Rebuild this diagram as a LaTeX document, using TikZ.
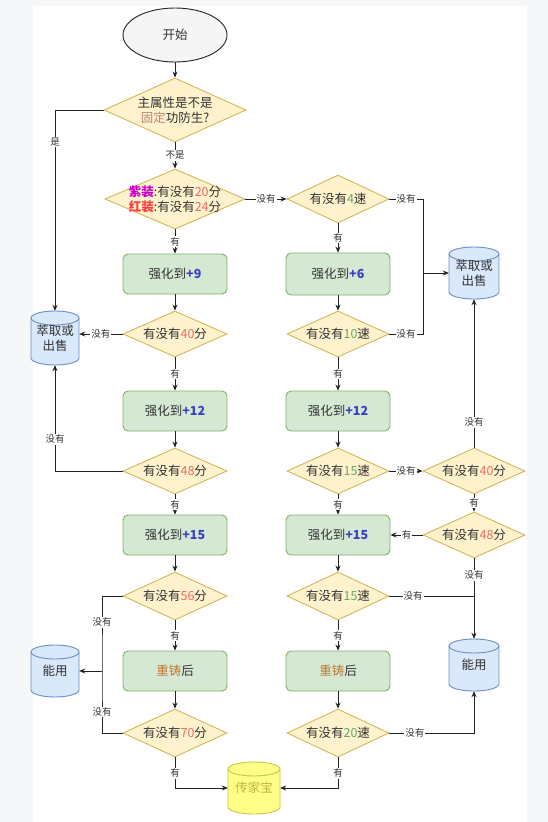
\documentclass[tikz,border=0pt]{standalone}
\usepackage{fontspec}
\setmainfont{Noto Sans CJK SC}
\usetikzlibrary{shapes.geometric,arrows.meta}
\definecolor{txtc}{HTML}{333333}
\definecolor{linec}{HTML}{222222}
\definecolor{diaF}{HTML}{FFF2CC}
\definecolor{diaD}{HTML}{D6B656}
\definecolor{boxF}{HTML}{D5E8D4}
\definecolor{boxD}{HTML}{82B366}
\definecolor{cylF}{HTML}{DAE8FC}
\definecolor{cylD}{HTML}{6C8EBF}
\definecolor{hF}{HTML}{FFFF88}
\definecolor{hD}{HTML}{CFC24A}
\definecolor{hT}{HTML}{C2B23E}
\definecolor{fenc}{HTML}{EA6B66}
\definecolor{suc}{HTML}{5DAA6A}
\definecolor{plusc}{HTML}{3B3FC4}
\definecolor{zic}{HTML}{CC00CC}
\definecolor{hongc}{HTML}{FF3B3B}
\definecolor{guc}{HTML}{B98575}
\definecolor{zhuc}{HTML}{C07A30}
\definecolor{bandc}{HTML}{F6F7F9}
\newcommand{\cfen}[1]{\textcolor{fenc}{#1}}
\newcommand{\csu}[1]{\textcolor{suc}{#1}}
\newcommand{\cplus}[1]{\textcolor{plusc}{\bfseries #1}}
\newcommand{\mkcyl}[7]{%
  \begin{scope}[shift={(#2,#3)}]
    \filldraw[#6] (-#4/2,-#5/2+7) -- (-#4/2,#5/2-7) arc[start angle=180,end angle=0,x radius=#4/2,y radius=7] -- (#4/2,-#5/2+7) arc[start angle=0,end angle=-180,x radius=#4/2,y radius=7] -- cycle;
    \draw[#6] (-#4/2,-#5/2+7) arc[start angle=180,end angle=0,x radius=#4/2,y radius=7];
  \end{scope}
  \node[cylt, minimum width=#4pt, minimum height=#5pt] (#1) at (#2,#3) {#7};
}
\tikzset{
  dia/.style={diamond, draw=diaD, fill=diaF, inner sep=0pt, line width=0.9pt},
  dlab/.style={font=\fontsize{12.5}{15}\selectfont, text=txtc, align=center, inner sep=0pt},
  box/.style={rectangle, rounded corners=5pt, draw=boxD, fill=boxF, line width=0.9pt, minimum width=104pt, minimum height=40pt, font=\fontsize{12.5}{15}\selectfont, text=txtc},
  cylt/.style={rectangle, inner sep=0pt, font=\fontsize{12.5}{15}\selectfont, align=center, text=txtc},
  cylblue/.style={fill=cylF, draw=cylD, line width=0.9pt},
  cylyel/.style={fill=hF, draw=hD, line width=0.9pt},
  lbl/.style={fill=white, inner sep=1pt, font=\fontsize{9.5}{11}\selectfont, text=txtc},
  arr/.style={-{Stealth[length=6pt,width=5pt]}, line width=0.9pt, draw=linec},
  ln/.style={line width=0.9pt, draw=linec},
}
\begin{document}
\begin{tikzpicture}[x=1pt,y=-1pt]
\fill[bandc] (0,0) rectangle (548,822);
\fill[white] (33,6) rectangle (527,822);
\useasboundingbox (0,0) rectangle (548,822);

% start
\node[ellipse, draw=linec, fill=black!4, line width=0.9pt, minimum width=104pt, minimum height=54pt, font=\fontsize{12.5}{15}\selectfont, text=txtc] (start) at (175,35) {开始};

% diamonds
\node[dia, minimum width=142pt, minimum height=64pt, label={[dlab]center:{主属性是不是\\\textcolor{guc}{固定}功防生?}}] (d1) at (175,110) {};
\node[dia, minimum width=140pt, minimum height=60pt, label={[dlab]center:{\textcolor{zic}{\bfseries 紫装}:有没有\cfen{20}分\\\textcolor{hongc}{\bfseries 红装}:有没有\cfen{24}分}}] (d2) at (175,199) {};
\node[dia, minimum width=102pt, minimum height=48pt, label={[dlab]center:{有没有\csu{4}速}}] (d3) at (338,199) {};
\node[dia, minimum width=104pt, minimum height=46pt, label={[dlab]center:{有没有\cfen{40}分}}] (d40L) at (175,334) {};
\node[dia, minimum width=102pt, minimum height=46pt, label={[dlab]center:{有没有\csu{10}速}}] (d10) at (338,334) {};
\node[dia, minimum width=104pt, minimum height=46pt, label={[dlab]center:{有没有\cfen{48}分}}] (d48L) at (175,471) {};
\node[dia, minimum width=102pt, minimum height=46pt, label={[dlab]center:{有没有\csu{15}速}}] (d15M) at (338,471) {};
\node[dia, minimum width=102pt, minimum height=46pt, label={[dlab]center:{有没有\cfen{40}分}}] (d40R) at (474,471) {};
\node[dia, minimum width=102pt, minimum height=46pt, label={[dlab]center:{有没有\cfen{48}分}}] (d48R) at (474,535) {};
\node[dia, minimum width=104pt, minimum height=48pt, label={[dlab]center:{有没有\cfen{56}分}}] (d56) at (175,596) {};
\node[dia, minimum width=102pt, minimum height=48pt, label={[dlab]center:{有没有\csu{15}速}}] (d15b) at (338,596) {};
\node[dia, minimum width=104pt, minimum height=48pt, label={[dlab]center:{有没有\cfen{70}分}}] (d70) at (175,733) {};
\node[dia, minimum width=102pt, minimum height=48pt, label={[dlab]center:{有没有\csu{20}速}}] (d20) at (338,733) {};

% boxes
\node[box] (b9) at (175,274) {强化到\cplus{+9}};
\node[box, minimum height=42pt] (b6) at (338,274) {强化到\cplus{+6}};
\node[box] (b12L) at (175,411) {强化到\cplus{+12}};
\node[box] (b12M) at (338,411) {强化到\cplus{+12}};
\node[box] (b15L) at (175,535) {强化到\cplus{+15}};
\node[box] (b15M) at (338,535) {强化到\cplus{+15}};
\node[box] (brL) at (175,671) {\textcolor{zhuc}{重铸}后};
\node[box] (brM) at (338,671) {\textcolor{zhuc}{重铸}后};

% cylinders
\mkcyl{cylL}{55}{338}{48}{54}{cylblue}{萃取或\\出售}
\mkcyl{cylR}{474}{273}{50}{52}{cylblue}{萃取或\\出售}
\mkcyl{cylNL}{55}{671}{48}{52}{cylblue}{能用}
\mkcyl{cylNR}{474}{665}{50}{52}{cylblue}{能用}
\mkcyl{cylH}{254}{788}{52}{52}{cylyel}{\textcolor{hT}{传家宝}}

% connectors
\coordinate (jr) at (423,273);
\coordinate (jl) at (102,671);
\draw[arr] (start) -- (d1);
\draw[arr] (d1) -- node[lbl]{不是} (d2);
\draw[arr] (d1.west) -| node[lbl,pos=0.58]{是} (cylL.north);
\draw[arr] (d2) -- node[lbl]{没有} (d3);
\draw[arr] (d2) -- node[lbl]{有} (b9);
\draw[arr] (d3) -- node[lbl]{有} (b6);
\draw[arr] (b9) -- (d40L);
\draw[arr] (b6) -- (d10);
\draw[ln] (d3.east) -- node[lbl]{没有} (d3.east -| jr) -- (d10.east -| jr) -- node[lbl]{没有} (d10.east);
\draw[arr] (jr) -- (cylR.west);
\draw[arr] (d40L.west) -- node[lbl]{没有} (d40L.west -| cylL.east);
\draw[arr] (d40L) -- node[lbl]{有} (b12L);
\draw[arr] (b12L) -- (d48L);
\draw[arr] (d48L.west) -| node[lbl,pos=0.65]{没有} (cylL.south);
\draw[arr] (d48L) -- node[lbl]{有} (b15L);
\draw[arr] (b15L) -- (d56);
\draw[arr] (d56) -- node[lbl]{有} (brL);
\draw[arr] (brL) -- (d70);
\draw[ln] (d56.west) -- (d56.west -| jl) -- node[lbl,pos=0.35]{没有} (jl) -- node[lbl,pos=0.66]{没有} (d70.west -| jl) -- (d70.west);
\draw[arr] (jl) -- (cylNL.east);
\draw[arr] (d70.south) |- node[lbl,pos=0.26]{有} (cylH.west);
\draw[arr] (d10) -- node[lbl]{有} (b12M);
\draw[arr] (b12M) -- (d15M);
\draw[arr] (d15M) -- node[lbl]{没有} (d40R);
\draw[arr] (d40R) -- node[lbl,pos=0.17]{没有} (cylR);
\draw[arr] (d40R) -- node[lbl]{有} (d48R);
\draw[arr] (d48R) -- node[lbl]{有} (b15M);
\draw[arr] (d15M) -- node[lbl]{有} (b15M);
\draw[arr] (b15M) -- (d15b);
\draw[arr] (d48R) -- node[lbl,pos=0.21]{没有} (cylNR);
\draw[ln] (d15b.east) -- node[lbl,pos=0.28]{没有} (d15b.east -| cylNR.north);
\draw[arr] (d15b) -- node[lbl]{有} (brM);
\draw[arr] (brM) -- (d20);
\draw[arr] (d20.east) -| node[lbl,pos=0.15]{没有} (cylNR.south);
\draw[arr] (d20.south) |- node[lbl,pos=0.26]{有} (cylH.east);
\end{tikzpicture}
\end{document}
